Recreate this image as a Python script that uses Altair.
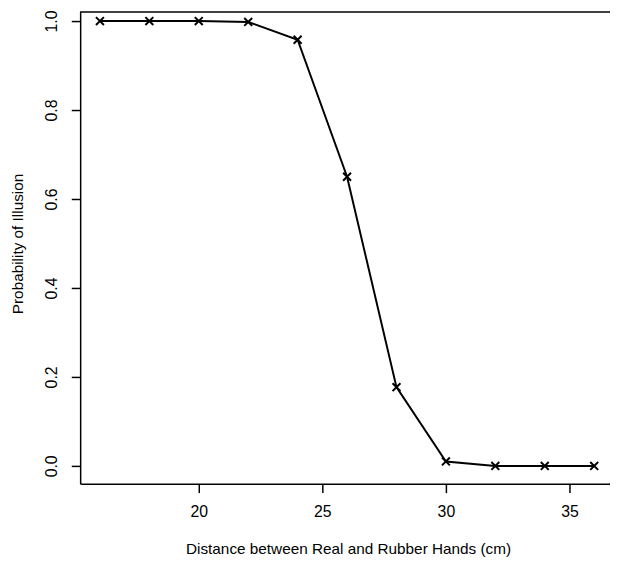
import altair as alt
import pandas as pd

distance = [16, 18, 20, 22, 24, 26, 28, 30, 32, 34, 36]
probability = [1.0, 1.0, 1.0, 0.998, 0.958, 0.650, 0.177, 0.010, 0.0, 0.0, 0.0]
x_ticks = [20, 25, 30, 35]
y_ticks = [0.0, 0.2, 0.4, 0.6, 0.8, 1.0]
x_title = "Distance between Real and Rubber Hands (cm)"
y_title = "Probability of Illusion"

df = pd.DataFrame({"distance": distance, "probability": probability})

W, H = 536, 478
FONT = "Liberation Sans"
FS = 15.5
LFS = 16

xs = alt.Scale(domain=[15.2, 36.64], nice=False, zero=False)
ys = alt.Scale(domain=[-0.04, 1.0222], nice=False, zero=False)

xaxis = alt.Axis(
    values=x_ticks, title=x_title, grid=False,
    domainColor="black", domainWidth=1.5,
    tickColor="black", tickWidth=1.5, tickSize=9,
    labelFont=FONT, labelFontSize=LFS, labelColor="black",
    labelBaseline="alphabetic", labelPadding=24, labelFlush=False,
    titleFont=FONT, titleFontSize=FS, titleFontWeight="normal", titleColor="black",
    titleBaseline="alphabetic", titleAlign="center", titleX=271, titleY=71,
)
yaxis = alt.Axis(
    values=y_ticks, format=".1f", title=y_title, grid=False,
    domainColor="black", domainWidth=1.5,
    tickColor="black", tickWidth=1.5, tickSize=9,
    labelFont=FONT, labelFontSize=LFS, labelColor="black",
    labelAngle=270, labelAlign="center", labelBaseline="alphabetic",
    labelPadding=15, labelFlush=False, labelOverlap=False,
    titleFont=FONT, titleFontSize=FS, titleFontWeight="normal", titleColor="black",
    titleAngle=270, titleBaseline="alphabetic", titleAlign="center",
    titleX=-58, titleY=235,
)

base = alt.Chart(df).encode(
    x=alt.X("distance:Q", scale=xs, axis=xaxis),
    y=alt.Y("probability:Q", scale=ys, axis=yaxis),
)

line = base.mark_line(color="black", strokeWidth=2)
points = base.mark_point(
    shape="M-1,-1L1,1M1,-1L-1,1", size=64, filled=False,
    color="black", strokeWidth=2, opacity=1,
)

top_rule = alt.Chart(pd.DataFrame({"a": [0]})).mark_rule(
    color="black", strokeWidth=1.5
).encode(x=alt.value(0), x2=alt.value(W), y=alt.value(0.75))

chart = alt.layer(line, points, top_rule).properties(
    width=W, height=H,
    padding={"left": 73, "top": 0, "right": 0, "bottom": 76},
    autosize=alt.AutoSizeParams(type="none"),
).configure_view(stroke=None)

chart.save("out.html", embed_options={"renderer": "svg", "actions": False})
